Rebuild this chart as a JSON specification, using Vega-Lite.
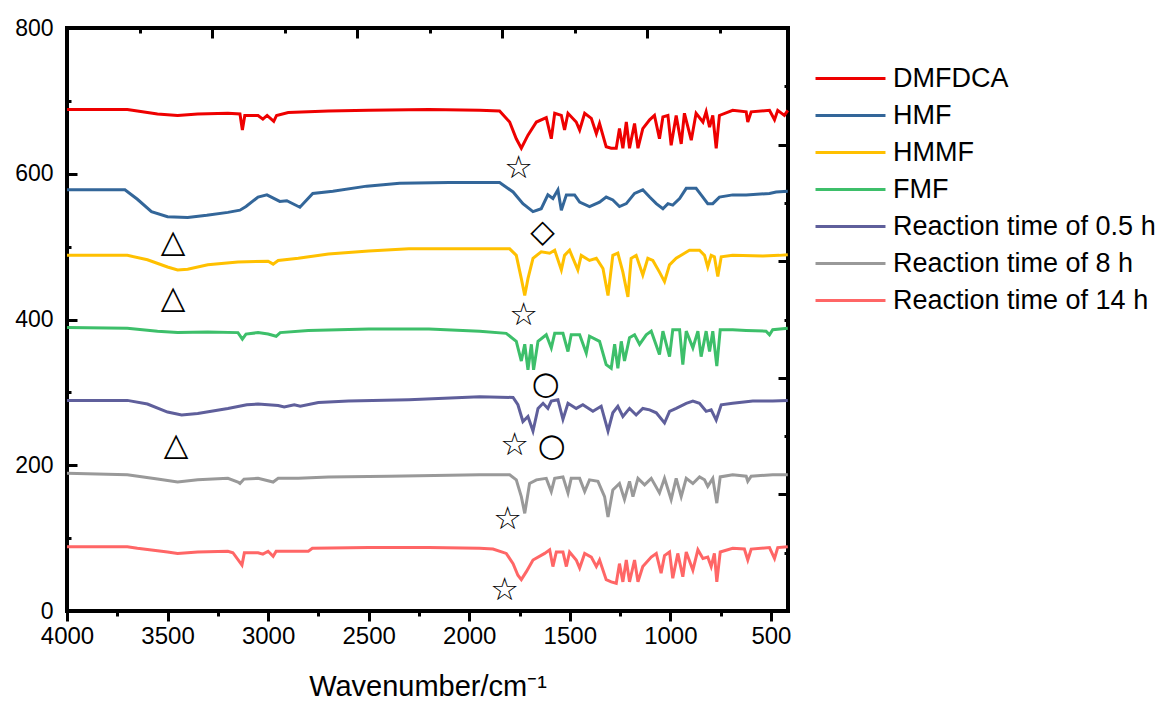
{
"$schema": "https://vega.github.io/schema/vega-lite/v6.json",
"width": 721, "height": 583,
"autosize": {"type": "none"},
"padding": {"left": 67, "top": 28, "right": 374, "bottom": 96},
"background": "white",
"config": {"view": {"stroke": "black", "strokeWidth": 4}, "font": "Liberation Sans"},
"datasets": {
"spec": [
{"s":"DMFDCA","x":4000,"y":688},{"s":"DMFDCA","x":3700,"y":688},{"s":"DMFDCA","x":3650,"y":686},{"s":"DMFDCA","x":3550,"y":682},{"s":"DMFDCA","x":3450,"y":680},{"s":"DMFDCA","x":3350,"y":682},{"s":"DMFDCA","x":3200,"y":683},{"s":"DMFDCA","x":3140,"y":682},{"s":"DMFDCA","x":3128,"y":660},{"s":"DMFDCA","x":3116,"y":680},{"s":"DMFDCA","x":3050,"y":680},{"s":"DMFDCA","x":3026,"y":675},{"s":"DMFDCA","x":3005,"y":680},{"s":"DMFDCA","x":2972,"y":672},{"s":"DMFDCA","x":2958,"y":680},{"s":"DMFDCA","x":2900,"y":684},{"s":"DMFDCA","x":2700,"y":686},{"s":"DMFDCA","x":2500,"y":687},{"s":"DMFDCA","x":2200,"y":688},{"s":"DMFDCA","x":1948,"y":687},{"s":"DMFDCA","x":1849,"y":686},{"s":"DMFDCA","x":1799,"y":671},{"s":"DMFDCA","x":1766,"y":648},{"s":"DMFDCA","x":1741,"y":635},{"s":"DMFDCA","x":1708,"y":653},{"s":"DMFDCA","x":1666,"y":671},{"s":"DMFDCA","x":1617,"y":677},{"s":"DMFDCA","x":1592,"y":648},{"s":"DMFDCA","x":1575,"y":683},{"s":"DMFDCA","x":1542,"y":680},{"s":"DMFDCA","x":1526,"y":660},{"s":"DMFDCA","x":1509,"y":683},{"s":"DMFDCA","x":1468,"y":671},{"s":"DMFDCA","x":1451,"y":660},{"s":"DMFDCA","x":1426,"y":683},{"s":"DMFDCA","x":1393,"y":676},{"s":"DMFDCA","x":1368,"y":655},{"s":"DMFDCA","x":1352,"y":669},{"s":"DMFDCA","x":1319,"y":637},{"s":"DMFDCA","x":1294,"y":635},{"s":"DMFDCA","x":1269,"y":635},{"s":"DMFDCA","x":1253,"y":662},{"s":"DMFDCA","x":1236,"y":635},{"s":"DMFDCA","x":1219,"y":671},{"s":"DMFDCA","x":1203,"y":635},{"s":"DMFDCA","x":1178,"y":669},{"s":"DMFDCA","x":1161,"y":635},{"s":"DMFDCA","x":1137,"y":662},{"s":"DMFDCA","x":1103,"y":674},{"s":"DMFDCA","x":1079,"y":680},{"s":"DMFDCA","x":1054,"y":648},{"s":"DMFDCA","x":1037,"y":678},{"s":"DMFDCA","x":1012,"y":680},{"s":"DMFDCA","x":996,"y":639},{"s":"DMFDCA","x":971,"y":680},{"s":"DMFDCA","x":946,"y":641},{"s":"DMFDCA","x":930,"y":683},{"s":"DMFDCA","x":896,"y":646},{"s":"DMFDCA","x":872,"y":683},{"s":"DMFDCA","x":838,"y":671},{"s":"DMFDCA","x":822,"y":685},{"s":"DMFDCA","x":805,"y":664},{"s":"DMFDCA","x":789,"y":680},{"s":"DMFDCA","x":772,"y":635},{"s":"DMFDCA","x":756,"y":680},{"s":"DMFDCA","x":690,"y":687},{"s":"DMFDCA","x":623,"y":685},{"s":"DMFDCA","x":615,"y":671},{"s":"DMFDCA","x":598,"y":685},{"s":"DMFDCA","x":507,"y":687},{"s":"DMFDCA","x":482,"y":674},{"s":"DMFDCA","x":466,"y":687},{"s":"DMFDCA","x":433,"y":680},{"s":"DMFDCA","x":416,"y":687},
{"s":"HMF","x":4000,"y":578},{"s":"HMF","x":3712,"y":578},{"s":"HMF","x":3650,"y":565},{"s":"HMF","x":3580,"y":548},{"s":"HMF","x":3500,"y":541},{"s":"HMF","x":3400,"y":540},{"s":"HMF","x":3305,"y":543},{"s":"HMF","x":3200,"y":547},{"s":"HMF","x":3140,"y":550},{"s":"HMF","x":3110,"y":555},{"s":"HMF","x":3050,"y":568},{"s":"HMF","x":3006,"y":571},{"s":"HMF","x":2942,"y":562},{"s":"HMF","x":2907,"y":563},{"s":"HMF","x":2842,"y":554},{"s":"HMF","x":2778,"y":573},{"s":"HMF","x":2678,"y":576},{"s":"HMF","x":2510,"y":583},{"s":"HMF","x":2346,"y":587},{"s":"HMF","x":2100,"y":588},{"s":"HMF","x":1948,"y":588},{"s":"HMF","x":1849,"y":588},{"s":"HMF","x":1782,"y":575},{"s":"HMF","x":1733,"y":559},{"s":"HMF","x":1683,"y":548},{"s":"HMF","x":1642,"y":552},{"s":"HMF","x":1609,"y":571},{"s":"HMF","x":1584,"y":566},{"s":"HMF","x":1559,"y":578},{"s":"HMF","x":1542,"y":550},{"s":"HMF","x":1517,"y":571},{"s":"HMF","x":1476,"y":571},{"s":"HMF","x":1451,"y":561},{"s":"HMF","x":1402,"y":555},{"s":"HMF","x":1352,"y":561},{"s":"HMF","x":1319,"y":568},{"s":"HMF","x":1286,"y":564},{"s":"HMF","x":1253,"y":555},{"s":"HMF","x":1219,"y":559},{"s":"HMF","x":1178,"y":573},{"s":"HMF","x":1137,"y":578},{"s":"HMF","x":1103,"y":568},{"s":"HMF","x":1070,"y":559},{"s":"HMF","x":1037,"y":552},{"s":"HMF","x":1012,"y":559},{"s":"HMF","x":988,"y":557},{"s":"HMF","x":954,"y":566},{"s":"HMF","x":921,"y":580},{"s":"HMF","x":872,"y":580},{"s":"HMF","x":847,"y":571},{"s":"HMF","x":814,"y":559},{"s":"HMF","x":789,"y":559},{"s":"HMF","x":756,"y":568},{"s":"HMF","x":690,"y":571},{"s":"HMF","x":623,"y":571},{"s":"HMF","x":507,"y":573},{"s":"HMF","x":474,"y":575},{"s":"HMF","x":416,"y":576},
{"s":"HMMF","x":4000,"y":488},{"s":"HMMF","x":3700,"y":488},{"s":"HMMF","x":3600,"y":482},{"s":"HMMF","x":3500,"y":472},{"s":"HMMF","x":3450,"y":468},{"s":"HMMF","x":3400,"y":469},{"s":"HMMF","x":3300,"y":475},{"s":"HMMF","x":3150,"y":479},{"s":"HMMF","x":3000,"y":480},{"s":"HMMF","x":2975,"y":476},{"s":"HMMF","x":2950,"y":481},{"s":"HMMF","x":2850,"y":484},{"s":"HMMF","x":2700,"y":490},{"s":"HMMF","x":2500,"y":494},{"s":"HMMF","x":2300,"y":497},{"s":"HMMF","x":1948,"y":497},{"s":"HMMF","x":1799,"y":497},{"s":"HMMF","x":1766,"y":488},{"s":"HMMF","x":1741,"y":456},{"s":"HMMF","x":1724,"y":433},{"s":"HMMF","x":1708,"y":456},{"s":"HMMF","x":1683,"y":484},{"s":"HMMF","x":1642,"y":493},{"s":"HMMF","x":1600,"y":491},{"s":"HMMF","x":1575,"y":495},{"s":"HMMF","x":1542,"y":468},{"s":"HMMF","x":1526,"y":488},{"s":"HMMF","x":1501,"y":495},{"s":"HMMF","x":1460,"y":468},{"s":"HMMF","x":1443,"y":488},{"s":"HMMF","x":1402,"y":481},{"s":"HMMF","x":1368,"y":484},{"s":"HMMF","x":1335,"y":470},{"s":"HMMF","x":1310,"y":433},{"s":"HMMF","x":1286,"y":488},{"s":"HMMF","x":1261,"y":491},{"s":"HMMF","x":1236,"y":465},{"s":"HMMF","x":1211,"y":431},{"s":"HMMF","x":1195,"y":484},{"s":"HMMF","x":1170,"y":488},{"s":"HMMF","x":1137,"y":461},{"s":"HMMF","x":1112,"y":484},{"s":"HMMF","x":1087,"y":481},{"s":"HMMF","x":1054,"y":465},{"s":"HMMF","x":1029,"y":452},{"s":"HMMF","x":1004,"y":475},{"s":"HMMF","x":971,"y":484},{"s":"HMMF","x":930,"y":491},{"s":"HMMF","x":905,"y":495},{"s":"HMMF","x":855,"y":495},{"s":"HMMF","x":830,"y":488},{"s":"HMMF","x":814,"y":472},{"s":"HMMF","x":797,"y":488},{"s":"HMMF","x":781,"y":486},{"s":"HMMF","x":764,"y":459},{"s":"HMMF","x":747,"y":486},{"s":"HMMF","x":690,"y":488},{"s":"HMMF","x":540,"y":487},{"s":"HMMF","x":458,"y":488},{"s":"HMMF","x":416,"y":489},
{"s":"FMF","x":4000,"y":389},{"s":"FMF","x":3700,"y":388},{"s":"FMF","x":3550,"y":384},{"s":"FMF","x":3450,"y":382},{"s":"FMF","x":3300,"y":383},{"s":"FMF","x":3150,"y":382},{"s":"FMF","x":3128,"y":373},{"s":"FMF","x":3110,"y":380},{"s":"FMF","x":3050,"y":382},{"s":"FMF","x":3000,"y":380},{"s":"FMF","x":2960,"y":377},{"s":"FMF","x":2940,"y":382},{"s":"FMF","x":2800,"y":385},{"s":"FMF","x":2500,"y":387},{"s":"FMF","x":2200,"y":387},{"s":"FMF","x":1948,"y":384},{"s":"FMF","x":1816,"y":381},{"s":"FMF","x":1766,"y":370},{"s":"FMF","x":1741,"y":343},{"s":"FMF","x":1724,"y":366},{"s":"FMF","x":1708,"y":331},{"s":"FMF","x":1691,"y":366},{"s":"FMF","x":1680,"y":331},{"s":"FMF","x":1658,"y":370},{"s":"FMF","x":1617,"y":379},{"s":"FMF","x":1592,"y":361},{"s":"FMF","x":1575,"y":381},{"s":"FMF","x":1534,"y":381},{"s":"FMF","x":1509,"y":356},{"s":"FMF","x":1493,"y":379},{"s":"FMF","x":1451,"y":379},{"s":"FMF","x":1418,"y":354},{"s":"FMF","x":1402,"y":377},{"s":"FMF","x":1352,"y":370},{"s":"FMF","x":1319,"y":338},{"s":"FMF","x":1294,"y":333},{"s":"FMF","x":1277,"y":366},{"s":"FMF","x":1261,"y":333},{"s":"FMF","x":1244,"y":370},{"s":"FMF","x":1228,"y":343},{"s":"FMF","x":1203,"y":375},{"s":"FMF","x":1178,"y":379},{"s":"FMF","x":1153,"y":366},{"s":"FMF","x":1120,"y":379},{"s":"FMF","x":1095,"y":384},{"s":"FMF","x":1054,"y":352},{"s":"FMF","x":1037,"y":384},{"s":"FMF","x":1004,"y":349},{"s":"FMF","x":988,"y":386},{"s":"FMF","x":954,"y":386},{"s":"FMF","x":938,"y":338},{"s":"FMF","x":921,"y":384},{"s":"FMF","x":888,"y":361},{"s":"FMF","x":863,"y":384},{"s":"FMF","x":847,"y":349},{"s":"FMF","x":822,"y":384},{"s":"FMF","x":805,"y":356},{"s":"FMF","x":789,"y":384},{"s":"FMF","x":769,"y":336},{"s":"FMF","x":752,"y":386},{"s":"FMF","x":690,"y":386},{"s":"FMF","x":623,"y":385},{"s":"FMF","x":524,"y":384},{"s":"FMF","x":507,"y":379},{"s":"FMF","x":491,"y":386},{"s":"FMF","x":416,"y":388},
{"s":"Reaction time of 0.5 h","x":4000,"y":289},{"s":"Reaction time of 0.5 h","x":3700,"y":289},{"s":"Reaction time of 0.5 h","x":3600,"y":284},{"s":"Reaction time of 0.5 h","x":3500,"y":273},{"s":"Reaction time of 0.5 h","x":3430,"y":269},{"s":"Reaction time of 0.5 h","x":3350,"y":271},{"s":"Reaction time of 0.5 h","x":3200,"y":278},{"s":"Reaction time of 0.5 h","x":3106,"y":283},{"s":"Reaction time of 0.5 h","x":3050,"y":284},{"s":"Reaction time of 0.5 h","x":2950,"y":282},{"s":"Reaction time of 0.5 h","x":2920,"y":280},{"s":"Reaction time of 0.5 h","x":2870,"y":283},{"s":"Reaction time of 0.5 h","x":2840,"y":281},{"s":"Reaction time of 0.5 h","x":2750,"y":286},{"s":"Reaction time of 0.5 h","x":2600,"y":288},{"s":"Reaction time of 0.5 h","x":2300,"y":290},{"s":"Reaction time of 0.5 h","x":1948,"y":294},{"s":"Reaction time of 0.5 h","x":1782,"y":293},{"s":"Reaction time of 0.5 h","x":1758,"y":283},{"s":"Reaction time of 0.5 h","x":1733,"y":260},{"s":"Reaction time of 0.5 h","x":1708,"y":267},{"s":"Reaction time of 0.5 h","x":1683,"y":247},{"s":"Reaction time of 0.5 h","x":1658,"y":278},{"s":"Reaction time of 0.5 h","x":1633,"y":285},{"s":"Reaction time of 0.5 h","x":1609,"y":278},{"s":"Reaction time of 0.5 h","x":1592,"y":288},{"s":"Reaction time of 0.5 h","x":1559,"y":290},{"s":"Reaction time of 0.5 h","x":1534,"y":263},{"s":"Reaction time of 0.5 h","x":1509,"y":285},{"s":"Reaction time of 0.5 h","x":1468,"y":278},{"s":"Reaction time of 0.5 h","x":1435,"y":283},{"s":"Reaction time of 0.5 h","x":1385,"y":274},{"s":"Reaction time of 0.5 h","x":1344,"y":281},{"s":"Reaction time of 0.5 h","x":1310,"y":247},{"s":"Reaction time of 0.5 h","x":1286,"y":272},{"s":"Reaction time of 0.5 h","x":1261,"y":281},{"s":"Reaction time of 0.5 h","x":1236,"y":267},{"s":"Reaction time of 0.5 h","x":1203,"y":278},{"s":"Reaction time of 0.5 h","x":1170,"y":269},{"s":"Reaction time of 0.5 h","x":1137,"y":278},{"s":"Reaction time of 0.5 h","x":1103,"y":276},{"s":"Reaction time of 0.5 h","x":1070,"y":272},{"s":"Reaction time of 0.5 h","x":1029,"y":258},{"s":"Reaction time of 0.5 h","x":1004,"y":274},{"s":"Reaction time of 0.5 h","x":971,"y":278},{"s":"Reaction time of 0.5 h","x":921,"y":285},{"s":"Reaction time of 0.5 h","x":888,"y":288},{"s":"Reaction time of 0.5 h","x":855,"y":285},{"s":"Reaction time of 0.5 h","x":822,"y":274},{"s":"Reaction time of 0.5 h","x":797,"y":276},{"s":"Reaction time of 0.5 h","x":772,"y":262},{"s":"Reaction time of 0.5 h","x":747,"y":283},{"s":"Reaction time of 0.5 h","x":690,"y":285},{"s":"Reaction time of 0.5 h","x":590,"y":288},{"s":"Reaction time of 0.5 h","x":491,"y":288},{"s":"Reaction time of 0.5 h","x":416,"y":289},
{"s":"Reaction time of 8 h","x":4000,"y":189},{"s":"Reaction time of 8 h","x":3700,"y":187},{"s":"Reaction time of 8 h","x":3550,"y":181},{"s":"Reaction time of 8 h","x":3450,"y":177},{"s":"Reaction time of 8 h","x":3350,"y":180},{"s":"Reaction time of 8 h","x":3200,"y":182},{"s":"Reaction time of 8 h","x":3150,"y":177},{"s":"Reaction time of 8 h","x":3140,"y":175},{"s":"Reaction time of 8 h","x":3120,"y":181},{"s":"Reaction time of 8 h","x":3050,"y":182},{"s":"Reaction time of 8 h","x":2975,"y":177},{"s":"Reaction time of 8 h","x":2950,"y":182},{"s":"Reaction time of 8 h","x":2850,"y":182},{"s":"Reaction time of 8 h","x":2700,"y":184},{"s":"Reaction time of 8 h","x":2400,"y":185},{"s":"Reaction time of 8 h","x":1948,"y":187},{"s":"Reaction time of 8 h","x":1799,"y":187},{"s":"Reaction time of 8 h","x":1766,"y":180},{"s":"Reaction time of 8 h","x":1741,"y":157},{"s":"Reaction time of 8 h","x":1724,"y":134},{"s":"Reaction time of 8 h","x":1700,"y":175},{"s":"Reaction time of 8 h","x":1666,"y":180},{"s":"Reaction time of 8 h","x":1617,"y":182},{"s":"Reaction time of 8 h","x":1592,"y":164},{"s":"Reaction time of 8 h","x":1575,"y":182},{"s":"Reaction time of 8 h","x":1534,"y":184},{"s":"Reaction time of 8 h","x":1509,"y":162},{"s":"Reaction time of 8 h","x":1493,"y":182},{"s":"Reaction time of 8 h","x":1451,"y":182},{"s":"Reaction time of 8 h","x":1426,"y":164},{"s":"Reaction time of 8 h","x":1402,"y":180},{"s":"Reaction time of 8 h","x":1360,"y":178},{"s":"Reaction time of 8 h","x":1327,"y":157},{"s":"Reaction time of 8 h","x":1310,"y":129},{"s":"Reaction time of 8 h","x":1286,"y":166},{"s":"Reaction time of 8 h","x":1253,"y":175},{"s":"Reaction time of 8 h","x":1228,"y":153},{"s":"Reaction time of 8 h","x":1203,"y":178},{"s":"Reaction time of 8 h","x":1186,"y":157},{"s":"Reaction time of 8 h","x":1161,"y":182},{"s":"Reaction time of 8 h","x":1128,"y":173},{"s":"Reaction time of 8 h","x":1095,"y":182},{"s":"Reaction time of 8 h","x":1054,"y":162},{"s":"Reaction time of 8 h","x":1029,"y":182},{"s":"Reaction time of 8 h","x":996,"y":153},{"s":"Reaction time of 8 h","x":971,"y":182},{"s":"Reaction time of 8 h","x":946,"y":157},{"s":"Reaction time of 8 h","x":921,"y":182},{"s":"Reaction time of 8 h","x":888,"y":175},{"s":"Reaction time of 8 h","x":855,"y":184},{"s":"Reaction time of 8 h","x":830,"y":180},{"s":"Reaction time of 8 h","x":814,"y":171},{"s":"Reaction time of 8 h","x":789,"y":182},{"s":"Reaction time of 8 h","x":769,"y":148},{"s":"Reaction time of 8 h","x":752,"y":184},{"s":"Reaction time of 8 h","x":690,"y":187},{"s":"Reaction time of 8 h","x":623,"y":185},{"s":"Reaction time of 8 h","x":615,"y":178},{"s":"Reaction time of 8 h","x":598,"y":185},{"s":"Reaction time of 8 h","x":491,"y":187},{"s":"Reaction time of 8 h","x":416,"y":187},
{"s":"Reaction time of 14 h","x":4000,"y":88},{"s":"Reaction time of 14 h","x":3700,"y":88},{"s":"Reaction time of 14 h","x":3650,"y":86},{"s":"Reaction time of 14 h","x":3500,"y":81},{"s":"Reaction time of 14 h","x":3450,"y":79},{"s":"Reaction time of 14 h","x":3350,"y":81},{"s":"Reaction time of 14 h","x":3200,"y":82},{"s":"Reaction time of 14 h","x":3175,"y":80},{"s":"Reaction time of 14 h","x":3130,"y":63},{"s":"Reaction time of 14 h","x":3118,"y":80},{"s":"Reaction time of 14 h","x":3050,"y":80},{"s":"Reaction time of 14 h","x":3026,"y":78},{"s":"Reaction time of 14 h","x":3000,"y":82},{"s":"Reaction time of 14 h","x":2975,"y":75},{"s":"Reaction time of 14 h","x":2960,"y":82},{"s":"Reaction time of 14 h","x":2900,"y":82},{"s":"Reaction time of 14 h","x":2800,"y":82},{"s":"Reaction time of 14 h","x":2780,"y":86},{"s":"Reaction time of 14 h","x":2500,"y":87},{"s":"Reaction time of 14 h","x":2200,"y":87},{"s":"Reaction time of 14 h","x":1948,"y":86},{"s":"Reaction time of 14 h","x":1882,"y":85},{"s":"Reaction time of 14 h","x":1816,"y":79},{"s":"Reaction time of 14 h","x":1782,"y":65},{"s":"Reaction time of 14 h","x":1758,"y":49},{"s":"Reaction time of 14 h","x":1741,"y":43},{"s":"Reaction time of 14 h","x":1716,"y":54},{"s":"Reaction time of 14 h","x":1683,"y":70},{"s":"Reaction time of 14 h","x":1625,"y":79},{"s":"Reaction time of 14 h","x":1600,"y":84},{"s":"Reaction time of 14 h","x":1584,"y":61},{"s":"Reaction time of 14 h","x":1567,"y":81},{"s":"Reaction time of 14 h","x":1534,"y":81},{"s":"Reaction time of 14 h","x":1517,"y":61},{"s":"Reaction time of 14 h","x":1501,"y":81},{"s":"Reaction time of 14 h","x":1468,"y":70},{"s":"Reaction time of 14 h","x":1451,"y":59},{"s":"Reaction time of 14 h","x":1426,"y":79},{"s":"Reaction time of 14 h","x":1393,"y":74},{"s":"Reaction time of 14 h","x":1368,"y":61},{"s":"Reaction time of 14 h","x":1352,"y":70},{"s":"Reaction time of 14 h","x":1319,"y":43},{"s":"Reaction time of 14 h","x":1294,"y":40},{"s":"Reaction time of 14 h","x":1269,"y":38},{"s":"Reaction time of 14 h","x":1253,"y":65},{"s":"Reaction time of 14 h","x":1236,"y":40},{"s":"Reaction time of 14 h","x":1219,"y":70},{"s":"Reaction time of 14 h","x":1203,"y":40},{"s":"Reaction time of 14 h","x":1178,"y":70},{"s":"Reaction time of 14 h","x":1161,"y":40},{"s":"Reaction time of 14 h","x":1137,"y":61},{"s":"Reaction time of 14 h","x":1095,"y":74},{"s":"Reaction time of 14 h","x":1070,"y":79},{"s":"Reaction time of 14 h","x":1046,"y":52},{"s":"Reaction time of 14 h","x":1029,"y":76},{"s":"Reaction time of 14 h","x":1004,"y":81},{"s":"Reaction time of 14 h","x":988,"y":45},{"s":"Reaction time of 14 h","x":963,"y":79},{"s":"Reaction time of 14 h","x":938,"y":47},{"s":"Reaction time of 14 h","x":921,"y":81},{"s":"Reaction time of 14 h","x":888,"y":56},{"s":"Reaction time of 14 h","x":863,"y":84},{"s":"Reaction time of 14 h","x":838,"y":72},{"s":"Reaction time of 14 h","x":814,"y":74},{"s":"Reaction time of 14 h","x":797,"y":61},{"s":"Reaction time of 14 h","x":781,"y":79},{"s":"Reaction time of 14 h","x":769,"y":40},{"s":"Reaction time of 14 h","x":752,"y":81},{"s":"Reaction time of 14 h","x":690,"y":86},{"s":"Reaction time of 14 h","x":632,"y":85},{"s":"Reaction time of 14 h","x":615,"y":70},{"s":"Reaction time of 14 h","x":598,"y":85},{"s":"Reaction time of 14 h","x":507,"y":87},{"s":"Reaction time of 14 h","x":482,"y":72},{"s":"Reaction time of 14 h","x":466,"y":87},{"s":"Reaction time of 14 h","x":416,"y":88}
],
"marks": [
{"x":1754,"y":608,"m":"☆"},{"x":3473,"y":506,"m":"△"},{"x":1635,"y":520,"m":"◇"},{"x":3473,"y":429,"m":"△"},{"x":1730,"y":406,"m":"☆"},{"x":1620,"y":311,"m":"○"},{"x":3458,"y":228,"m":"△"},{"x":1774,"y":228,"m":"☆"},{"x":1590,"y":226,"m":"○"},{"x":1809,"y":126,"m":"☆"},{"x":1824,"y":29,"m":"☆"}
]
},
"layer": [
{
"data": {"name": "spec"},
"mark": {"type": "line", "strokeWidth": 3},
"encoding": {
"x": {"field": "x", "type": "quantitative", "scale": {"domain": [4000, 415], "nice": false, "zero": false},
 "axis": {"orient": "bottom", "values": [4000,3500,3000,2500,2000,1500,1000,500], "format": "d", "domain": false, "grid": false, "tickSize": 10, "tickWidth": 3, "tickColor": "black", "labelFontSize": 24, "labelColor": "black", "labelFont": "Liberation Sans", "labelPadding": 3, "labelFlush": false, "labelOverlap": false, "labelBound": false,
 "title": "Wavenumber/cm⁻¹", "titleFont": "Liberation Sans", "titleFontSize": 29, "titleFontWeight": "normal", "titleColor": "black", "titlePadding": 24}},
"y": {"field": "y", "type": "quantitative", "scale": {"domain": [0, 800], "nice": false, "zero": false},
 "axis": {"orient": "left", "values": [0,200,400,600,800], "format": "d", "domain": false, "grid": false, "ticks": false, "labelFontSize": 23, "labelColor": "black", "labelFont": "Liberation Sans", "labelPadding": 14, "labelFlush": false, "labelOverlap": false, "labelBound": false, "title": null}},
"color": {"field": "s", "type": "nominal",
 "scale": {"domain": ["DMFDCA","HMF","HMMF","FMF","Reaction time of 0.5 h","Reaction time of 8 h","Reaction time of 14 h"],
  "range": ["#EE0000","#336699","#FFC000","#3DBF6A","#5F5F9B","#999999","#FF6666"]},
 "legend": {"orient": "none", "legendX": 770, "legendY": 37, "title": null, "symbolType": "M-3,0L3,0", "symbolSize": 544, "symbolStrokeWidth": 3, "symbolFillColor": "transparent", "labelFontSize": 27, "labelFont": "Liberation Sans", "labelColor": "black", "labelOffset": 29, "rowPadding": 9, "padding": 0, "labelLimit": 400}}
}
},
{
"data": {"name": "marks"},
"mark": {"type": "text", "font": "DejaVu Sans", "fontSize": 32, "color": "black", "align": "center", "baseline": "middle"},
"encoding": {
"x": {"field": "x", "type": "quantitative", "scale": {"domain": [4000, 415], "nice": false, "zero": false},
 "axis": {"orient": "bottom", "values": [3750,3250,2750,2250,1750,1250,750], "domain": false, "grid": false, "labels": false, "tickSize": 5, "tickWidth": 3, "tickColor": "black", "title": null}},
"y": {"field": "y", "type": "quantitative", "scale": {"domain": [0, 800], "nice": false, "zero": false},
 "axis": {"orient": "left", "values": [0,200,400,600,800], "domain": false, "grid": false, "labels": false, "tickSize": -10, "tickWidth": 3, "tickColor": "black", "title": null}},
"text": {"field": "m"}
}
},
{
"data": {"name": "marks"},
"mark": {"type": "point", "opacity": 0},
"encoding": {
"x": {"field": "x", "type": "quantitative", "scale": {"domain": [4000, 1514], "nice": false, "zero": false},
 "axis": {"orient": "top", "values": [3500,3000,2500,2000], "domain": false, "grid": false, "labels": false, "tickSize": -10, "tickWidth": 3, "tickColor": "black", "title": null}},
"y": {"field": "y", "type": "quantitative", "scale": {"domain": [0, 1000], "nice": false, "zero": false},
 "axis": {"orient": "right", "values": [200,400,600,800], "domain": false, "grid": false, "labels": false, "tickSize": -10, "tickWidth": 3, "tickColor": "black", "title": null}}
}
},
{
"data": {"name": "marks"},
"mark": {"type": "point", "opacity": 0},
"encoding": {
"x": {"field": "x", "type": "quantitative", "scale": {"domain": [4000, 1514], "nice": false, "zero": false},
 "axis": {"orient": "top", "values": [3750,3250,2750,2250,1750], "domain": false, "grid": false, "labels": false, "tickSize": -5, "tickWidth": 3, "tickColor": "black", "title": null}},
"y": {"field": "y", "type": "quantitative", "scale": {"domain": [0, 1000], "nice": false, "zero": false},
 "axis": {"orient": "right", "values": [100,300,500,700,900], "domain": false, "grid": false, "labels": false, "tickSize": -4, "tickWidth": 3, "tickColor": "black", "title": null}}
}
},
{
"data": {"name": "marks"},
"mark": {"type": "point", "opacity": 0},
"encoding": {
"x": {"field": "x", "type": "quantitative", "scale": {"domain": [4000, 415], "nice": false, "zero": false}, "axis": null},
"y": {"field": "y", "type": "quantitative", "scale": {"domain": [0, 800], "nice": false, "zero": false},
 "axis": {"orient": "left", "values": [100,300,500,700], "domain": false, "grid": false, "labels": false, "tickSize": -4, "tickWidth": 3, "tickColor": "black", "title": null}}
}
}
],
"resolve": {"scale": {"x": "independent", "y": "independent"}, "axis": {"x": "independent", "y": "independent"}}
}
